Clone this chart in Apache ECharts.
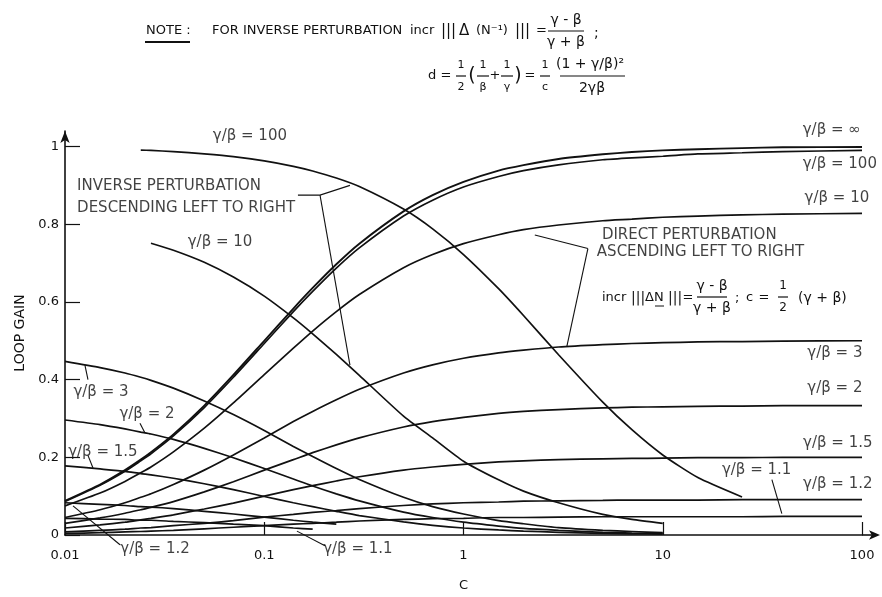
<!DOCTYPE html>
<html><head><meta charset="utf-8">
<script src="https://cdn.jsdelivr.net/npm/echarts@6/dist/echarts.min.js"></script>
<style>html,body{margin:0;padding:0;background:#fff}#c{width:882px;height:597px}</style>
</head><body><div id="c"></div>
<script>
// ---- data ----
const cGrid  = [0.01,0.015,0.02,0.024,0.027,0.035,0.05,0.07,0.1,0.14,0.175,0.23,0.3,0.5,0.7,1,1.5,2,3,5,7,10,15,25,40,100];
// direct perturbation, ascending
const dirInf = [0.088,0.130,0.167,0.194,0.213,0.259,0.333,0.412,0.500,0.583,0.636,0.697,0.750,0.833,0.875,0.909,0.938,0.952,0.968,0.980,0.986,0.990,0.993,0.996,0.998,0.999];
const dir100 = [0.086,0.128,0.164,0.191,0.209,0.255,0.328,0.406,0.493,0.575,0.627,0.687,0.739,0.821,0.862,0.896,0.923,0.938,0.953,0.966,0.971,0.975,0.981,0.984,0.987,0.990];
const dir10  = [0.075,0.108,0.138,0.160,0.175,0.214,0.275,0.340,0.413,0.481,0.525,0.575,0.619,0.688,0.722,0.750,0.773,0.786,0.798,0.809,0.813,0.818,0.821,0.824,0.826,0.828];
const dir3   = [0.045,0.065,0.083,0.097,0.106,0.130,0.167,0.206,0.250,0.292,0.318,0.348,0.375,0.417,0.438,0.455,0.469,0.476,0.484,0.490,0.493,0.495,0.497,0.498,0.499,0.500];
const dir2   = [0.030,0.044,0.056,0.065,0.071,0.086,0.111,0.137,0.167,0.194,0.212,0.232,0.250,0.278,0.292,0.303,0.313,0.318,0.323,0.327,0.329,0.330,0.331,0.332,0.333,0.333];
const dir15  = [0.018,0.026,0.033,0.039,0.043,0.052,0.067,0.082,0.100,0.117,0.127,0.139,0.150,0.167,0.175,0.182,0.188,0.191,0.194,0.196,0.197,0.198,0.199,0.199,0.200,0.200];
const dir12  = [0.008,0.012,0.015,0.018,0.019,0.024,0.030,0.037,0.046,0.053,0.058,0.063,0.068,0.076,0.080,0.083,0.085,0.087,0.088,0.089,0.090,0.090,0.090,0.091,0.091,0.091];
const dir11  = [0.004,0.006,0.008,0.009,0.010,0.012,0.016,0.020,0.024,0.028,0.030,0.033,0.036,0.040,0.042,0.043,0.045,0.045,0.046,0.047,0.047,0.047,0.047,0.047,0.048,0.048];
// inverse perturbation, descending
const inv100 = [null,null,null,0.991,0.990,0.987,0.981,0.974,0.963,0.949,0.937,0.919,0.897,0.839,0.788,0.722,0.634,0.565,0.464,0.342,0.271,0.206,0.148,0.098,null,null];
const inv10  = [null,null,null,null,0.751,0.733,0.702,0.664,0.615,0.559,0.518,0.465,0.411,0.306,0.250,0.190,0.142,0.113,0.083,0.053,0.040,0.030,null,null,null,null];
const inv3   = [0.447,0.431,0.417,0.406,0.398,0.378,0.345,0.310,0.269,0.228,0.202,0.171,0.143,0.097,0.073,0.054,0.037,0.029,0.019,0.012,0.009,0.006,null,null,null,null];
const inv2   = [0.296,0.284,0.273,0.265,0.260,0.246,0.223,0.199,0.171,0.144,0.126,0.106,0.088,0.059,0.045,0.033,0.023,0.017,0.012,0.007,0.005,0.004,null,null,null,null];
const inv15  = [0.178,0.170,0.164,0.158,0.155,0.146,0.132,0.117,0.099,0.083,0.073,0.061,0.050,0.034,0.025,0.018,0.013,0.010,0.007,0.004,0.003,0.002,null,null,null,null];
const inv12  = [0.083,0.079,0.076,0.073,0.072,0.068,0.061,0.054,0.046,0.038,0.033,0.028,null,null,null,null,null,null,null,null,null,null,null,null,null,null];
const inv11  = [0.043,0.041,0.040,0.038,0.038,0.035,0.032,0.028,0.024,0.018,0.015,null,null,null,null,null,null,null,null,null,null,null,null,null,null,null];

const xTicks = [0.01,0.1,1,10,100];
const xTickLabels = ['0.01','0.1','1','10','100'];
const yTicks = [0,0.2,0.4,0.6,0.8,1];
const yTickLabels = ['0','0.2','0.4','0.6','0.8','1'];

// curve annotations: [text, c, loop gain, align]
const curveLabels = [
  ['γ/β = 100', 0.0847, 1.028, 'center'],
  ['γ/β = 10', 0.060, 0.755, 'center'],
  ['INVERSE PERTURBATION', 0.0115, 0.8975, 'left'],
  ['DESCENDING LEFT TO RIGHT', 0.0115, 0.8425, 'left'],
  ['γ/β = 3', 0.01516, 0.3675, 'center'],
  ['γ/β = 2', 0.0258, 0.310, 'center'],
  ['γ/β = 1.5', 0.0155, 0.2125, 'center'],
  ['γ/β = 1.2', 0.0283, -0.0375, 'center'],
  ['γ/β = 1.1', 0.295, -0.0375, 'center'],
  ['γ/β = ∞', 70.5, 1.0425, 'center'],
  ['γ/β = 100', 77.4, 0.955, 'center'],
  ['γ/β = 10', 74.8, 0.8675, 'center'],
  ['DIRECT PERTURBATION', 4.95, 0.7725, 'left'],
  ['ASCENDING LEFT TO RIGHT', 4.67, 0.7275, 'left'],
  ['γ/β = 3', 73.1, 0.4675, 'center'],
  ['γ/β = 2', 73.1, 0.3775, 'center'],
  ['γ/β = 1.5', 75.6, 0.2375, 'center'],
  ['γ/β = 1.2', 75.6, 0.130, 'center'],
  ['γ/β = 1.1', 29.6, 0.1675, 'center']
];
// leader arrows, in data units
const leaders = [
  [[0.1476,0.875],[0.1905,0.875],[0.2692,0.900]],
  [[0.1905,0.875],[0.2692,0.4375]],
  [[4.21,0.7375],[2.28,0.7725]],
  [[4.21,0.7375],[3.30,0.485]],
  [[0.01304,0.400],[0.01259,0.4375]],
  [[0.02378,0.2875],[0.0252,0.2625]],
  [[0.01304,0.205],[0.01382,0.1725]],
  [[0.01888,-0.025],[0.01097,0.075]],
  [[0.2017,-0.0275],[0.1459,0.010]],
  [[35.3,0.1425],[39.6,0.055]]
];

const FONT = 'DejaVu Sans';
const INK = '#111';

const curves = [
  [dirInf,1.9],[dir100,1.7],[dir10,1.7],[dir3,1.7],[dir2,1.7],[dir15,1.7],[dir12,1.7],[dir11,1.7],
  [inv100,1.7],[inv10,1.7],[inv3,1.7],[inv2,1.7],[inv15,1.7],[inv12,1.7],[inv11,1.7]
];
function toData(vals){ return cGrid.map((c,i)=> vals[i]==null ? null : [c, vals[i]]).filter(Boolean); }

const series = curves.map(([v,w]) => ({
  type:'line', data: toData(v), showSymbol:false, smooth:0.2,
  lineStyle:{color:INK, width:w}, silent:true, z:2
}));
series.push({
  type:'scatter', symbolSize:0, clip:false, silent:true, z:5,
  data: curveLabels.map(l => ({value:[l[1], l[2]], label:{formatter:l[0], align:l[3]}})),
  label:{show:true, position:'inside', color:INK, fontFamily:FONT, fontSize:15, verticalAlign:'middle'}
});
series.push({
  type:'lines', coordinateSystem:'cartesian2d', polyline:true, clip:false, silent:true, z:4,
  symbol:['none','arrow'], symbolSize:7,
  lineStyle:{color:INK, width:1.1, opacity:1},
  data: leaders.map(p => ({coords:p}))
});

// ---- text pieces of the notes (pixels) ----
function T(x,y,s,size,align){ return {type:'text', x:x, y:y, silent:true, style:{text:s, fill:INK, fontFamily:FONT, fontSize:size||13,
  align:align||'left', textAlign:align||'left', verticalAlign:'middle', textVerticalAlign:'middle'}}; }
function L(x1,y1,x2,y2,w){ return {type:'line', silent:true, shape:{x1,y1,x2,y2}, style:{stroke:INK, lineWidth:w||1.2}}; }
function F(cx,y,num,den,half,size){ return [T(cx,y-11,num,size,'center'), L(cx-half,y,cx+half,y,1.2), T(cx,y+11,den,size,'center')]; }

const g = [];
// line 1
const y1 = 31;
g.push(T(146,y1,'NOTE :',13), L(145,y1+11,190,y1+11,2));
g.push(T(212,y1,'FOR INVERSE PERTURBATION',13));
g.push(T(410,y1,'incr',13));
g.push(T(441,y1,'|||',15));
g.push(T(459,y1,'Δ',15));
g.push(T(476,y1,'(N⁻¹)',13));
g.push(T(515,y1,'|||',15));
g.push(T(536,y1,'=',13));
g.push(...F(566,y1,'γ - β','γ + β',18,14));
g.push(T(594,y1+2,';',14));
// line 2
const y2 = 76;
g.push(T(428,y2,'d =',13));
g.push(...F(461,y2,'1','2',5,11));
g.push(T(472,y2,'(',19,'center'));
g.push(...F(483,y2,'1','β',6,11));
g.push(T(495,y2,'+',13,'center'));
g.push(...F(507,y2,'1','γ',6,11));
g.push(T(518,y2,')',19,'center'));
g.push(T(530,y2,'=',13,'center'));
g.push(...F(545,y2,'1','c',5,11));
g.push(T(590,y2-12,'(1 + γ/β)²',14,'center'), L(560,y2,625,y2,1.2), T(592,y2+12,'2γβ',14,'center'));
// direct-perturbation formula
g.push(T(602,298,'incr',13));
g.push(T(631,298,'|||',14));
g.push(T(645,298,'ΔN',13));
g.push(L(655,306,664,306,1));
g.push(T(668,298,'|||',14));
g.push(T(688,298,'=',13,'center'));
g.push(...F(712,297,'γ - β','γ + β',15,14));
g.push(T(735,299,';',13));
g.push(T(746,298,'c',13));
g.push(T(764,298,'=',13,'center'));
g.push(...F(783,297,'1','2',5,12));
g.push(T(798,298,'(γ + β)',14));

const chart = echarts.init(document.getElementById('c'));
chart.setOption({
  animation:false,
  backgroundColor:'#fff',
  grid:{left:65, right:20, top:131, bottom:50},
  xAxis:{type:'log', logBase:10, min:0.01, max:100,
    name:'C', nameLocation:'middle', nameGap:44, nameTextStyle:{color:INK, fontFamily:FONT, fontSize:13},
    axisLine:{show:true, lineStyle:{color:INK, width:1.6}, symbol:['none','arrow'], symbolSize:[7,11], symbolOffset:[0,18]},
    axisTick:{show:true, inside:true, length:13, lineStyle:{color:INK, width:1.2}, customValues:xTicks},
    minorTick:{show:false}, splitLine:{show:false},
    axisLabel:{color:INK, fontFamily:FONT, fontSize:13, margin:14, customValues:xTicks,
      formatter:v=>{const i=xTicks.findIndex(t=>Math.abs(Math.log10(t)-Math.log10(v))<1e-6); return i<0?'':xTickLabels[i];}}
  },
  yAxis:{type:'value', min:0, max:1.04, interval:0.2,
    name:'LOOP GAIN', nameLocation:'middle', nameGap:32, nameRotate:90, nameTextStyle:{color:INK, fontFamily:FONT, fontSize:14},
    axisLine:{show:true, lineStyle:{color:INK, width:1.6}, symbol:['none','arrow'], symbolSize:[7,12]},
    axisTick:{show:true, inside:true, length:15, lineStyle:{color:INK, width:1.2}, customValues:yTicks},
    splitLine:{show:false},
    axisLabel:{color:INK, fontFamily:FONT, fontSize:13, margin:6, customValues:yTicks,
      formatter:v=>{const i=yTicks.findIndex(t=>Math.abs(t-v)<1e-6); return i<0?'':yTickLabels[i];}}
  },
  series: series,
  graphic: g
});
// short extension of the c axis up to its arrow
const p = chart.convertToPixel({gridIndex:0}, [100,0]);
chart.setOption({graphic: g.concat([L(p[0],p[1],p[0]+14,p[1],1.6)])});
</script>
</body></html>
